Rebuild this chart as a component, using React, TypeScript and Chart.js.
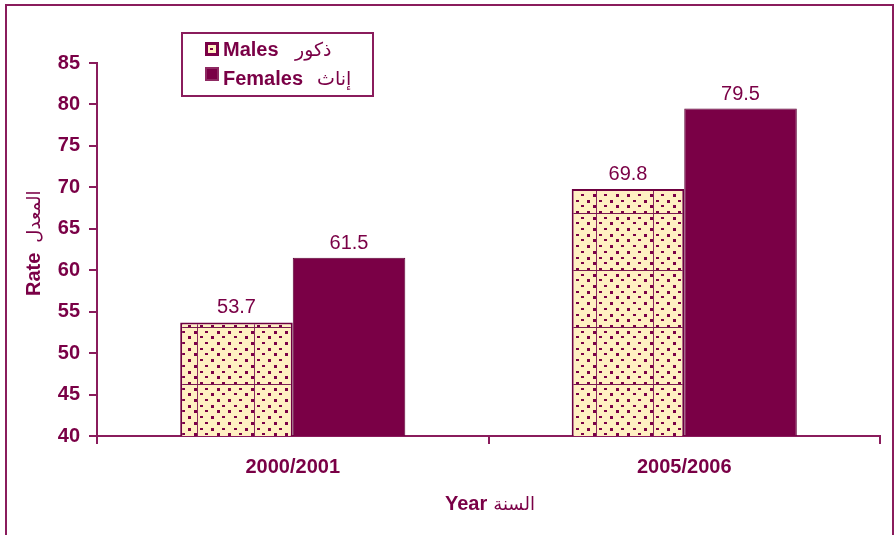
import React, { useEffect, useRef } from "react";
import { Chart, registerables } from "chart.js";

Chart.register(...registerables);

const categories = ["2000/2001", "2005/2006"];
const malesValues = [53.7, 69.8];
const femalesValues = [61.5, 79.5];
const yMin = 40;
const yMax = 85;
const yStep = 5;

const MAROON = "#7A0046";
const LINE = "#8A1C5C";
const CREAM = "#FFF0C2";
const FONT = "'Liberation Sans', Arial, 'DejaVu Sans', sans-serif";

function makePattern(ctx: CanvasRenderingContext2D) {
  const c = document.createElement("canvas");
  c.width = 57;
  c.height = 57;
  const g = c.getContext("2d")!;
  g.fillStyle = CREAM;
  g.fillRect(0, 0, 57, 57);
  g.fillStyle = MAROON;
  for (let j = 0; j < 10; j++) {
    const y = Math.round(j * 5.7);
    const off = j % 2 ? 5.7 : 0;
    for (let k = 0; k < 5; k++) {
      const x = Math.round(k * 11.4 + off) % 57;
      if ((j + k) % 2 === 0) g.fillRect(x, y, 3, 3);
      else g.fillRect(x, y, 3, 2);
    }
  }
  g.fillStyle = "#8A2A5E";
  g.fillRect(26, 0, 1, 57);
  g.fillStyle = "#7A1A50";
  g.fillRect(0, 42, 57, 1);
  return ctx.createPattern(c, "repeat")!;
}

const decorPlugin = {
  id: "decor",
  afterDraw(chart: any) {
    const ctx: CanvasRenderingContext2D = chart.ctx;
    ctx.save();
    // outer frame
    ctx.strokeStyle = LINE;
    ctx.lineWidth = 2;
    ctx.strokeRect(6, 5, 887, 532);

    // data labels
    ctx.fillStyle = MAROON;
    ctx.font = `20px ${FONT}`;
    ctx.textAlign = "center";
    ctx.textBaseline = "alphabetic";
    chart.data.datasets.forEach((ds: any, di: number) => {
      const meta = chart.getDatasetMeta(di);
      meta.data.forEach((el: any, i: number) => {
        ctx.fillText(String(ds.data[i]), el.x, el.y - 9);
      });
    });

    // x title
    ctx.textAlign = "left";
    ctx.font = `bold 20px ${FONT}`;
    ctx.fillText("Year", 445, 510);
    const yw = ctx.measureText("Year").width;
    ctx.font = `18px ${FONT}`;
    ctx.fillText("السنة", 445 + yw + 6, 510);

    // y title
    ctx.save();
    ctx.translate(40, 296);
    ctx.rotate(-Math.PI / 2);
    ctx.font = `bold 20px ${FONT}`;
    ctx.fillText("Rate", 0, 0);
    const rw = ctx.measureText("Rate").width;
    ctx.font = `18px ${FONT}`;
    ctx.fillText("المعدل", rw + 10, 0);
    ctx.restore();

    // legend
    ctx.fillStyle = "#ffffff";
    ctx.fillRect(182, 33, 191, 63);
    ctx.strokeStyle = LINE;
    ctx.lineWidth = 2;
    ctx.strokeRect(182, 33, 191, 63);
    // males marker
    ctx.fillStyle = MAROON;
    ctx.fillRect(205, 42, 14, 14);
    ctx.fillStyle = CREAM;
    ctx.fillRect(208, 45, 8, 8);
    ctx.fillStyle = MAROON;
    ctx.fillRect(210, 48, 3, 2);
    // females marker
    ctx.fillStyle = "#8E2A62";
    ctx.fillRect(205, 67, 14, 14);
    ctx.fillStyle = MAROON;
    ctx.fillRect(207, 69, 10, 10);

    ctx.fillStyle = MAROON;
    ctx.font = `bold 20px ${FONT}`;
    ctx.fillText("Males", 223, 56);
    ctx.fillText("Females", 223, 85);
    ctx.font = `19px ${FONT}`;
    ctx.fillText("ذكور", 295, 56);
    ctx.fillText("إناث", 317, 85);
    ctx.restore();
  },
};

export default function App() {
  const ref = useRef<HTMLCanvasElement | null>(null);

  useEffect(() => {
    const canvas = ref.current!;
    const ctx = canvas.getContext("2d")!;
    const pattern = makePattern(ctx);
    const chart = new Chart(canvas, {
      type: "bar",
      data: {
        labels: categories,
        datasets: [
          {
            label: "Males ذكور",
            data: malesValues,
            backgroundColor: pattern,
            borderColor: "#6E0040",
            borderWidth: 2,
            categoryPercentage: 0.575,
            barPercentage: 1,
          },
          {
            label: "Females إناث",
            data: femalesValues,
            backgroundColor: MAROON,
            borderColor: "#5E0035",
            borderWidth: 1,
            categoryPercentage: 0.575,
            barPercentage: 1,
          },
        ],
      },
      options: {
        responsive: false,
        animation: false,
        devicePixelRatio: 1,
        layout: { padding: { top: 63, right: 15, left: 0, bottom: 0 } },
        plugins: {
          legend: { display: false },
          tooltip: { enabled: false },
        },
        scales: {
          x: {
            offset: true,
            grid: {
              offset: true,
              drawOnChartArea: false,
              drawTicks: true,
              tickLength: 8,
              color: LINE,
              lineWidth: 2,
            },
            border: { display: true, color: LINE, width: 2 },
            ticks: {
              color: MAROON,
              font: { family: FONT, size: 20, weight: "bold" },
              padding: 11,
            },
            afterFit: (s: any) => {
              s.height = 99;
            },
          },
          y: {
            min: yMin,
            max: yMax,
            grid: {
              drawOnChartArea: false,
              drawTicks: true,
              tickLength: 8,
              color: LINE,
              lineWidth: 2,
            },
            border: { display: true, color: LINE, width: 2 },
            ticks: {
              stepSize: yStep,
              color: MAROON,
              font: { family: FONT, size: 20, weight: "bold" },
              padding: 9,
            },
            afterFit: (s: any) => {
              s.width = 97;
            },
          },
        },
      },
      plugins: [decorPlugin],
    } as any);
    return () => chart.destroy();
  }, []);

  return (
    <canvas
      ref={ref}
      width={895}
      height={535}
      style={{ position: "absolute", left: 0, top: 0, width: 895, height: 535 }}
    />
  );
}
